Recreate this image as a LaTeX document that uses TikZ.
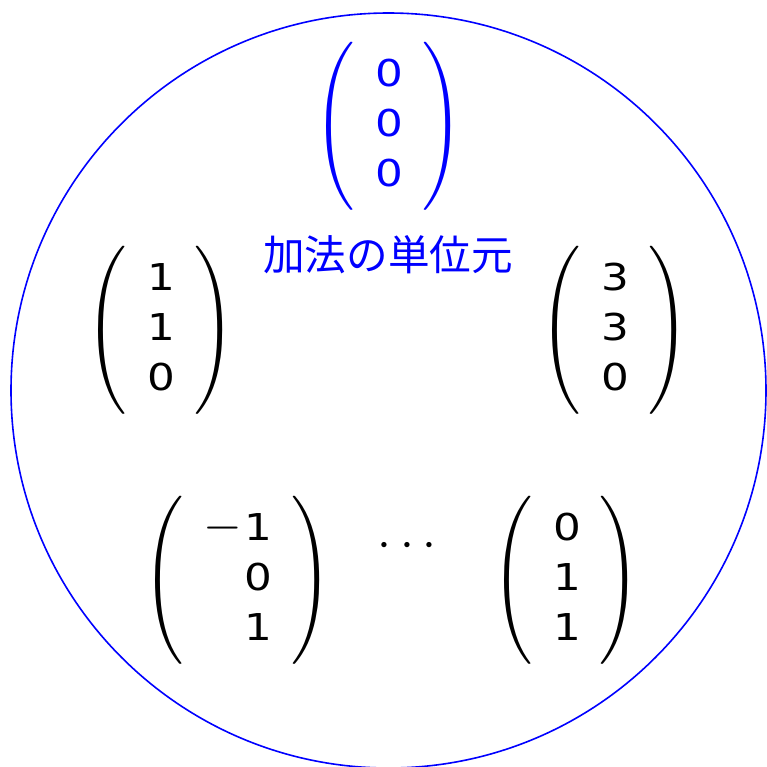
\documentclass[tikz,border=0pt]{standalone}
\usepackage{exscale}
\usepackage{graphicx}
\usepackage{fontspec}
\setmainfont{DejaVu Sans}[FakeStretch=1.18]
\newfontfamily\jpfont{Noto Sans CJK JP}
\newcommand{\bigparen}[1]{\vcenter{\hbox{\scalebox{1.02}[1.126]{$\left#1\vcenter to 70pt{}\right.$}}}}
\newcommand{\colvec}[3]{$\bigparen(\hspace{2pt}\vcenter{\hbox{\fontsize{18.5}{25}\selectfont
  \begin{tabular}{r}#1\\#2\\#3\end{tabular}}}\hspace{2.5pt}\bigparen)$}
\newcommand{\minussign}{{\fontsize{23}{25}\selectfont$-$}\hspace{1pt}}
\begin{document}
\begin{tikzpicture}[x=0.5pt,y=-0.5pt,every node/.style={font=\fontsize{18.5}{25}\selectfont,inner sep=0pt},
  vec/.style={font=\fontsize{24.88}{26}\selectfont},unit/.style={text=blue}]
\useasboundingbox (0,0) rectangle (767,767);
\draw[blue,line width=0.8pt] (388.5,390.5) circle [radius=188.75pt];
\setlength{\tabcolsep}{7pt}
\node[vec,unit] (zero) at (390,126) {\colvec{0}{0}{0}};
\node[unit,font=\fontsize{20.8}{25}\jpfont] (label) at (388,255) {加法の単位元};
\node[vec] (v110) at (162,330) {\colvec{1}{1}{0}};
\node[vec] (v330) at (616,330) {\colvec{3}{3}{0}};
\node[vec] (vm101) at (238.5,580) {\colvec{\minussign 1}{0}{1}};
\node[vec] (v011) at (567.5,580) {\colvec{0}{1}{1}};
\node[font=\fontsize{24}{26}\selectfont] (dots) at (407,546) {${\cdot}\mkern3mu{\cdot}\mkern3mu{\cdot}$};
\end{tikzpicture}
\end{document}
